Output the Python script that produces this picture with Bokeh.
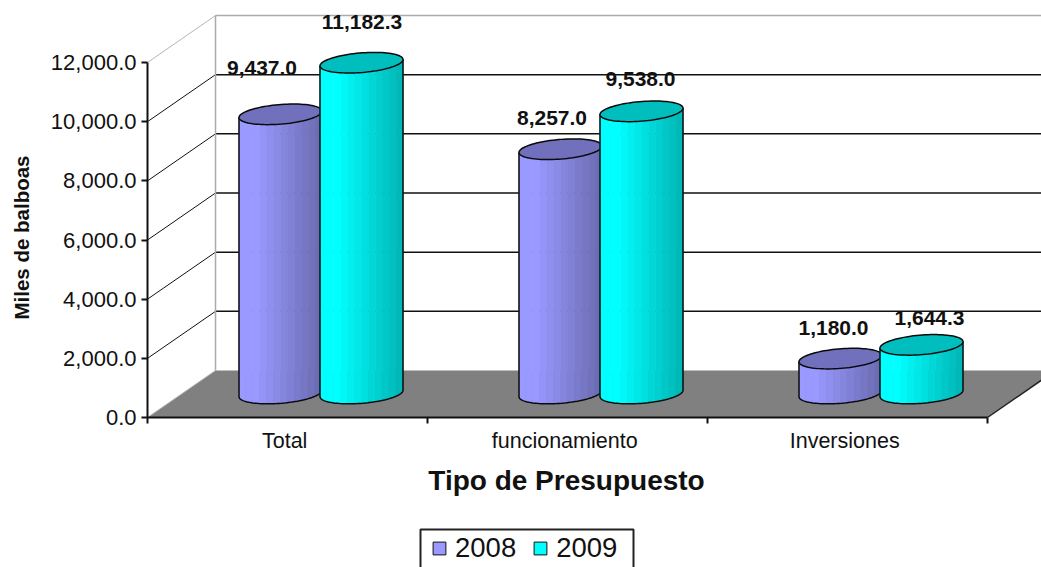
import numpy as np
from bokeh.embed import file_html
from bokeh.resources import INLINE
from bokeh.plotting import figure
from bokeh.models import (LinearAxis, FixedTicker, NumeralTickFormatter, Range1d,
                          Legend, LegendItem)
from bokeh.core.properties import value

categories = ["Total", "funcionamiento", "Inversiones"]
series_names = ["2008", "2009"]
values_2008 = [9437.0, 8257.0, 1180.0]
values_2009 = [11182.3, 9538.0, 1644.3]
y_ticks = [0, 2000, 4000, 6000, 8000, 10000, 12000]

FONT = value("Liberation Sans")
W, H = 1041, 567
X0, CAT_W = 147.0, 280.0          # page px of category 0 / px per category
Y0, PX_PER_UNIT = 417.0, 355.0 / 12000

def xd(px):
    return (px - X0) / CAT_W

def yd(px):
    return (Y0 - px) / PX_PER_UNIT

def ux(px):
    return px / CAT_W

def uy(px):
    return px / PX_PER_UNIT

p = figure(width=W, height=H, output_backend="svg", toolbar_location=None,
           x_axis_location=None, y_axis_location=None,
           x_range=Range1d(xd(0), xd(W)), y_range=Range1d(yd(H), yd(0)),
           min_border=0, min_border_left=0, min_border_right=0,
           min_border_top=0, min_border_bottom=0,
           background_fill_color="white", border_fill_color="white")
p.outline_line_color = None
p.grid.visible = False

# 3D box geometry
DX, DY = ux(68), uy(47)
far_right = 3.0 + DX

# floor
p.patch([0, DX, far_right, 3.0], [0, DY, DY, 0], fill_color="#808080", line_color=None)
p.line([3.0, far_right], [0, DY], line_color="#222222", line_width=1.5)

# walls and grid lines
for t in y_ticks:
    col = "#ababab" if t == 12000 else "#111111"
    if t > 0:
        p.line([DX, far_right], [t + DY, t + DY], line_color=col, line_width=1.5)
    diag = "#b5b5b5" if t in (0, 12000) else "#111111"
    p.line([0, DX], [t, t + DY], line_color=diag, line_width=1.0)
p.line([DX, DX], [DY, 12000 + DY], line_color="#ababab", line_width=1.5)

# cylinders
BASE = uy(24)
A, TILT, B = 41.5, 3.2, 9.8
CENTER = {"2008": 133.0 / 280, "2009": 214.0 / 280}
STYLE = {"2008": ((153, 153, 255), (108, 108, 180), "#7070BC"),
         "2009": ((0, 255, 255), (0, 184, 184), "#00BEBE")}

def ring(cx, v, ts):
    ts = np.asarray(ts)
    return (cx + ux(A) * np.cos(ts),
            v + BASE + uy(TILT) * np.cos(ts) - uy(B) * np.sin(ts))

def cylinder(cx, v, name):
    light, dark, top = STYLE[name]
    n = 12
    edges = np.arccos(np.linspace(-1, 1, n + 1))
    for i in range(n):
        f = i / (n - 1)
        m = min(1.0, max(0.0, (f - 0.2) / 0.8))
        col = "#%02x%02x%02x" % tuple(int(a + (b - a) * m) for a, b in zip(light, dark))
        ts = np.linspace(edges[i], edges[i + 1], 6)
        xb, yb = ring(cx, 0, ts)
        xt, yt = ring(cx, v, ts[::-1])
        p.patch(list(xb) + list(xt), list(yb) + list(yt),
                fill_color=col, line_color=col, line_width=0.6)
    # silhouette: left side, front of base, right side
    front = np.linspace(np.pi, 0, 50)
    xb, yb = ring(cx, 0, front)
    xl = [cx - ux(A)] + list(xb) + [cx + ux(A)]
    yl = [v + BASE - uy(TILT)] + list(yb) + [v + BASE + uy(TILT)]
    p.line(xl, yl, line_color="#0a0a0a", line_width=1.5)
    full = np.linspace(0, 2 * np.pi, 90)
    xr, yr = ring(cx, v, full)
    p.patch(list(xr), list(yr), fill_color=top, line_color="#0a0a0a", line_width=1.5)

for i in range(len(categories)):
    cylinder(i + CENTER["2008"], values_2008[i], "2008")
    cylinder(i + CENTER["2009"], values_2009[i], "2009")

# data labels
lab_x, lab_y, lab_t, lab_dx, lab_dy = [], [], [], [], []
off_08 = [(-18.5, -46), (-8.5, -31), (-7, -31)]
off_09 = [(0.5, -41), (-1, -32), (8, -27)]
for i in range(3):
    for name, vals, off in (("2008", values_2008, off_08), ("2009", values_2009, off_09)):
        lab_x.append(i + CENTER[name])
        lab_y.append(vals[i] + BASE)
        lab_t.append(f"{vals[i]:,.1f}")
        lab_dx.append(off[i][0])
        lab_dy.append(off[i][1])
p.text(lab_x, lab_y, text=lab_t, x_offset=lab_dx, y_offset=lab_dy,
       text_font=FONT, text_font_style="bold", text_font_size="21px",
       text_align="center", text_baseline="middle", text_color="#111111")

# axes
yax = LinearAxis(ticker=FixedTicker(ticks=y_ticks), fixed_location=0,
                 formatter=NumeralTickFormatter(format="0,0.0"))
yax.bounds = (0, 12000)
yax.axis_line_color = "#111111"
yax.axis_line_width = 2
yax.major_tick_line_color = "#111111"
yax.major_tick_line_width = 2
yax.major_tick_out = 6
yax.major_tick_in = 0
yax.minor_tick_line_color = None
yax.major_label_standoff = 5
yax.major_label_text_font = "Liberation Sans"
yax.major_label_text_font_size = "22px"
yax.major_label_text_color = "#111111"
p.add_layout(yax, "left")

xax = LinearAxis(ticker=FixedTicker(ticks=[0, 1, 2, 3]), fixed_location=0)
xax.bounds = (0, 3)
xax.axis_line_color = "#111111"
xax.axis_line_width = 2
xax.major_tick_line_color = "#111111"
xax.major_tick_line_width = 2
xax.major_tick_out = 6
xax.major_tick_in = 0
xax.minor_tick_line_color = None
xax.major_label_text_font_size = "0px"
xax.major_label_overrides = {0: "", 1: "", 2: "", 3: ""}
p.add_layout(xax, "below")

cat_pos = [i + 0.49 for i in range(len(categories))]
xcat = LinearAxis(ticker=FixedTicker(ticks=cat_pos), fixed_location=0)
xcat.major_label_overrides = {c: n for c, n in zip(cat_pos, categories)}
xcat.axis_line_color = None
xcat.major_tick_line_color = None
xcat.minor_tick_line_color = None
xcat.major_tick_out = 6
xcat.major_tick_in = 0
xcat.major_label_standoff = 5
xcat.major_label_text_font = "Liberation Sans"
xcat.major_label_text_font_size = "21.5px"
xcat.major_label_text_color = "#111111"
p.add_layout(xcat, "below")

# titles
p.text([xd(21)], [yd(237)], text=["Miles de balboas"], angle=np.pi / 2,
       text_font=FONT, text_font_style="bold", text_font_size="20.5px",
       text_align="center", text_baseline="middle", text_color="#111111")
p.text([xd(566)], [yd(480)], text=["Tipo de Presupuesto"],
       text_font=FONT, text_font_style="bold", text_font_size="28px",
       text_align="center", text_baseline="middle", text_color="#111111")

# legend: frame behind it runs off the bottom of the picture, as in the reference
p.quad(left=[xd(420)], right=[xd(633)], top=[yd(529)], bottom=[yd(590)],
       fill_color="white", line_color="#222222", line_width=2)
nan = float("nan")
r08 = p.quad(left=[nan], right=[nan], top=[nan], bottom=[nan], fill_color="#9999FF", line_color="#111111")
r09 = p.quad(left=[nan], right=[nan], top=[nan], bottom=[nan], fill_color="#00FFFF", line_color="#111111")
leg = Legend(items=[LegendItem(label=series_names[0], renderers=[r08]),
                    LegendItem(label=series_names[1], renderers=[r09])],
             orientation="horizontal", location=(431, 3),
             glyph_width=16, glyph_height=16, label_text_font="Liberation Sans",
             label_text_font_size="27.5px", label_text_color="#111111",
             label_standoff=8, spacing=16, padding=0, margin=0,
             border_line_color=None, background_fill_alpha=0)
p.add_layout(leg, "center")

open("out.html", "w").write(file_html(p, INLINE))
